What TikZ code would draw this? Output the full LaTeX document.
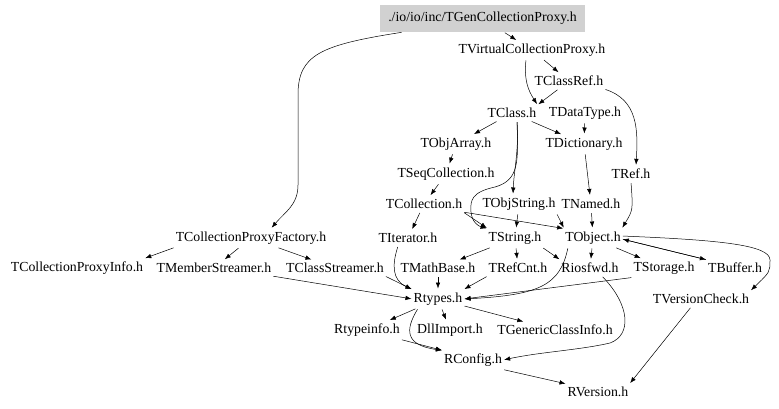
\documentclass[tikz,border=0pt]{standalone}
\usepackage{fontspec}
\setmainfont{Liberation Serif}
\usepackage{tikz}
\usetikzlibrary{arrows.meta, calc, positioning}
\tikzset{
    myfile/.style={inner xsep=1pt,inner ysep=3pt,font=\fontsize{13.8}{15}\selectfont},
    myedge/.style={-{Latex[length=6pt,width=4.5pt]},line width=0.5pt,shorten >=1pt,shorten <=1pt}
}

\begin{document}
\begin{tikzpicture}[x=1pt,y=-1pt]
\tikzset{
    myroot/.style={fill=black!18,minimum width=205pt,minimum height=27pt,font=\fontsize{13.8}{15}\selectfont}
}
  \useasboundingbox (0,0) rectangle (779,409);
  \node[myroot] (gen) at (482.5,18.5) {./io/io/inc/TGenCollectionProxy.h};
  \node[myfile] (vcp) at (532,50) {TVirtualCollectionProxy.h};
  \node[myfile] (classref) at (569,81) {TClassRef.h};
  \node[myfile] (tclass) at (512,113) {TClass.h};
  \node[myfile] (datatype) at (585,113) {TDataType.h};
  \node[myfile] (objarray) at (456,144) {TObjArray.h};
  \node[myfile] (dictionary) at (584,144) {TDictionary.h};
  \node[myfile] (seqcoll) at (446,174) {TSeqCollection.h};
  \node[myfile] (tref) at (631,174) {TRef.h};
  \node[myfile] (collection) at (424,204) {TCollection.h};
  \node[myfile] (objstring) at (519,204) {TObjString.h};
  \node[myfile] (named) at (591,204) {TNamed.h};
  \node[myfile] (factory) at (251,238) {TCollectionProxyFactory.h};
  \node[myfile] (iterator) at (408,238) {TIterator.h};
  \node[myfile] (tstring) at (515,238) {TString.h};
  \node[myfile] (tobject) at (593,238) {TObject.h};
  \node[myfile] (proxyinfo) at (77,268) {TCollectionProxyInfo.h};
  \node[myfile] (memberstr) at (214,268) {TMemberStreamer.h};
  \node[myfile] (classstr) at (335,268) {TClassStreamer.h};
  \node[myfile] (mathbase) at (438,268) {TMathBase.h};
  \node[myfile] (refcnt) at (518,268) {TRefCnt.h};
  \node[myfile] (riosfwd) at (590,268) {Riosfwd.h};
  \node[myfile] (storage) at (664,268) {TStorage.h};
  \node[myfile] (buffer) at (735,268) {TBuffer.h};
  \node[myfile] (rtypes) at (438,299) {Rtypes.h};
  \node[myfile] (versioncheck) at (701,299) {TVersionCheck.h};
  \node[myfile] (rtypeinfo) at (367,330) {Rtypeinfo.h};
  \node[myfile] (dllimport) at (450,330) {DllImport.h};
  \node[myfile] (genericinfo) at (555,330) {TGenericClassInfo.h};
  \node[myfile] (rconfig) at (473,360) {RConfig.h};
  \node[myfile] (rversion) at (598,392) {RVersion.h};
  \draw[myedge] (gen) -- (vcp);
  \draw[myedge] ([xshift=-80pt]gen.south) .. controls (320,45) and (298,55) .. (298,95) -- (298,185) .. controls (298,205) and (285,212) .. ([xshift=20pt]factory.north);
  \draw[myedge] (vcp) -- (classref);
  \draw[myedge] ([xshift=-6pt]vcp.south) .. controls (524,80) and (528,90) .. (tclass.north east);
  \draw[myedge] (classref) -- (tclass.north east);
  \draw[myedge] (classref.south east) .. controls (638,100) and (638,130) .. ([xshift=5pt]tref.north);
  \draw[myedge] (tclass) -- (objarray);
  \draw[myedge] (tclass) -- (dictionary);
  \draw[myedge] ([xshift=5pt]tclass.south) .. controls (519,150) and (514,170) .. ([xshift=-6pt]objstring.north);
  \draw[myedge] ([xshift=5pt]tclass.south) .. controls (518,160) and (520,180) .. (495,187) .. controls (472,192) and (470,200) .. (471,212) .. controls (472,222) and (478,226) .. (tstring.north west);
  \draw[myedge] (datatype) -- (dictionary);
  \draw[myedge] (objarray) -- (seqcoll);
  \draw[myedge] (seqcoll) -- (collection);
  \draw[myedge] (dictionary) -- (named);
  \draw[myedge] (tref.south) .. controls (633,210) .. (tobject.north east);
  \draw[myedge] (named) -- (tobject);
  \draw[myedge] (objstring.south east) -- (tobject.north west);
  \draw[myedge] (objstring) -- (tstring);
  \draw[myedge] (collection.south east) -- (tobject.north west);
  \draw[myedge] (collection.south east) -- (tstring.north west);
  \draw[myedge] (collection) -- (iterator);
  \draw[myedge] (tstring) -- (mathbase);
  \draw[myedge] (tstring) -- (refcnt);
  \draw[myedge] (tstring.south east) -- (riosfwd.north west);
  \draw[myedge] ([xshift=-25pt]tobject.south) .. controls (560,285) and (540,295) .. (rtypes.east);
  \draw[myedge] (tobject) -- (riosfwd);
  \draw[myedge] (tobject) -- (storage);
  \draw[myedge] ([yshift=-1pt]tobject.east) -- (buffer.north west);
  \draw[myedge] (buffer.north west) -- ([yshift=-1pt]tobject.east);
  \draw[myedge] ([yshift=2pt]tobject.east) .. controls (720,240) and (770,245) .. (770,260) .. controls (770,272) .. (versioncheck.north east);
  \draw[myedge] (storage.south west) -- (rtypes.east);
  \draw[myedge] ([xshift=-10pt]iterator.south) .. controls (392,265) and (392,280) .. (rtypes.north west);
  \draw[myedge] (mathbase) -- (rtypes);
  \draw[myedge] (refcnt.south west) -- (rtypes.north east);
  \draw[myedge] (classstr.south east) -- (rtypes.north west);
  \draw[myedge] (memberstr.south east) -- (rtypes.west);
  \draw[myedge] (factory.south west) -- (proxyinfo.north east);
  \draw[myedge] (factory) -- (memberstr);
  \draw[myedge] (factory) -- (classstr);
  \draw[myedge] (rtypes) -- (rtypeinfo);
  \draw[myedge] (rtypes) -- (dllimport);
  \draw[myedge] (rtypes) -- (genericinfo);
  \draw[myedge] ([xshift=-20pt]rtypes.south) .. controls (405,330) and (405,345) .. (rconfig.north west);
  \draw[myedge] (rtypeinfo.south east) -- (rconfig.north west);
  \draw[myedge] ([xshift=12pt]riosfwd.south) .. controls (630,305) and (632,335) .. (610,343) .. controls (580,350) and (540,352) .. (rconfig.east);
  \draw[myedge] (rconfig.south east) -- (rversion.north west);
  \draw[myedge] ([xshift=-10pt]versioncheck.south) -- (rversion.north east);
\end{tikzpicture}
\end{document}
